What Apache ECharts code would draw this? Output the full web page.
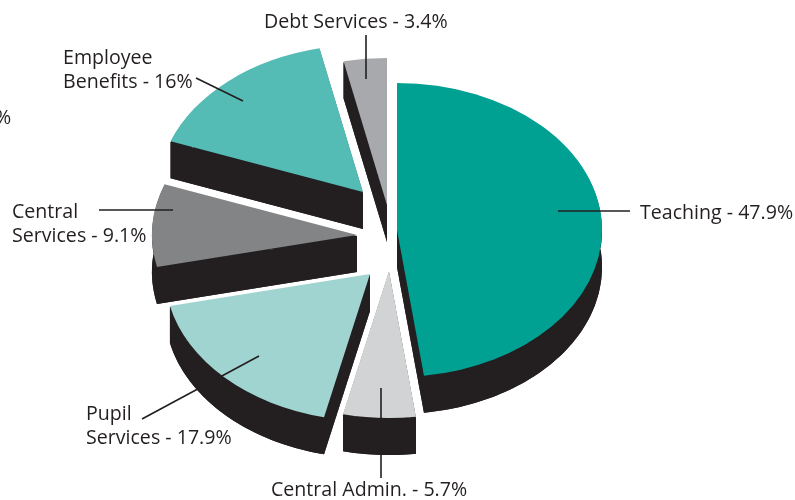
<!DOCTYPE html>
<html>
<head>
<meta charset="utf-8">
<style>
  html, body { margin: 0; padding: 0; background: #fff; }
  #main { width: 795px; height: 500px; }
</style>
<script src="https://cdn.jsdelivr.net/npm/echarts@6/dist/echarts.min.js"></script>
</head>
<body>
<div id="main"></div>
<script>
"use strict";

// data, clockwise from 12 o'clock
var categories = ["Teaching", "Central Admin.", "Pupil Services", "Central Services", "Employee Benefits", "Debt Services"];
var values = [47.9, 5.7, 17.9, 9.1, 16, 3.4];

// where each exploded slice has its apex
var apexX = [397, 389, 370, 357, 363, 387];
var apexY = [230, 271, 274, 235, 192, 205];
var sliceColors = ["#00a093", "#d1d3d4", "#a0d4d0", "#828486", "#54bbb5", "#a7a9ac"];

var radiusX = 205;
var radiusY = 147;
var depth = 37;
var darkColor = "#231f20";
var labelFont = '19.6px "Open Sans"';

// label text lines come from the categories and values
var labelLines = [
  { lines: ["Teaching - " + values[0] + "%"], x: 640, y: 213 },
  { lines: [categories[1] + " - " + values[1] + "%"], x: 271, y: 490 },
  { lines: ["Pupil", "Services - " + values[2] + "%"], x: 86, y: 414 },
  { lines: ["Central", "Services - " + values[3] + "%"], x: 12, y: 212 },
  { lines: ["Employee", "Benefits - " + values[4] + "%"], x: 63, y: 58 },
  { lines: [categories[5] + " - " + values[5] + "%"], x: 264, y: 22 },
];
var leaders = [
  [558, 211, 630, 211],
  [381, 388, 381, 478],
  [142, 419, 259, 356],
  [99, 210, 173, 210],
  [196, 78, 243, 101],
  [366, 35, 366, 79],
];

var total = values.reduce(function (a, b) { return a + b; }, 0);

function sliceWall(i, start, end) {
  var cx = apexX[i];
  var cy = apexY[i];
  var top = [];
  var steps = Math.ceil((end - start) * 40);
  for (var s = 0; s <= steps; s++) {
    var a = start + ((end - start) * s) / steps;
    top.push([cx + radiusX * Math.cos(a), cy + radiusY * Math.sin(a)]);
  }
  var walls = [];
  // walls start 1px under the top face so no dark fringe shows around it
  function addWall(points) {
    var upper = points.map(function (p) { return [p[0], p[1] + 1]; });
    var lower = points.map(function (p) { return [p[0], p[1] + depth]; }).reverse();
    walls.push({ type: "polygon", shape: { points: upper.concat(lower) }, style: { fill: darkColor } });
  }
  addWall(top);
  addWall([[cx, cy], top[0]]);
  addWall([[cx, cy], top[top.length - 1]]);
  return walls;
}

function renderSlice(params, api) {
  var i = params.dataIndex;
  var before = 0;
  for (var k = 0; k < i; k++) {
    before += values[k];
  }
  var start = -Math.PI / 2 + (before / total) * Math.PI * 2;
  var end = start + (api.value(0) / total) * Math.PI * 2;
  var shape = { cx: 0, cy: 0, r: radiusX, r0: 0, startAngle: start, endAngle: end, clockwise: true };
  var children = sliceWall(i, start, end);
  children.unshift({
    type: "sector",
    x: apexX[i],
    y: apexY[i] + depth,
    scaleY: radiusY / radiusX,
    shape: shape,
    style: { fill: darkColor },
  });
  children.push({
    type: "sector",
    x: apexX[i],
    y: apexY[i],
    scaleY: radiusY / radiusX,
    shape: shape,
    style: { fill: sliceColors[i] },
  });
  return { type: "group", children: children };
}

var graphics = [];
leaders.forEach(function (l) {
  graphics.push({
    type: "line",
    z: 100,
    silent: true,
    shape: { x1: l[0], y1: l[1], x2: l[2], y2: l[3] },
    style: { stroke: darkColor, lineWidth: 1.6 },
  });
});
labelLines.forEach(function (l) {
  l.lines.forEach(function (t, n) {
    graphics.push({
      type: "text",
      z: 100,
      silent: true,
      style: { text: t, x: l.x, y: l.y + n * 24.5, font: labelFont, fill: darkColor, verticalAlign: "middle" },
    });
  });
});
// cropped piece of a label at the left edge of the source picture
graphics.push({
  type: "text",
  z: 100,
  silent: true,
  style: { text: "%", x: -5, y: 118, font: labelFont, fill: darkColor, verticalAlign: "middle" },
});

var myChart = echarts.init(document.getElementById("main"));
myChart.setOption({
  animation: false,
  backgroundColor: "#fff",
  graphic: graphics,
  series: [
    {
      type: "custom",
      coordinateSystem: "none",
      silent: true,
      renderItem: renderSlice,
      data: values.map(function (v, i) {
        return { name: categories[i], value: [v] };
      }),
    },
  ],
});
</script>
</body>
</html>
